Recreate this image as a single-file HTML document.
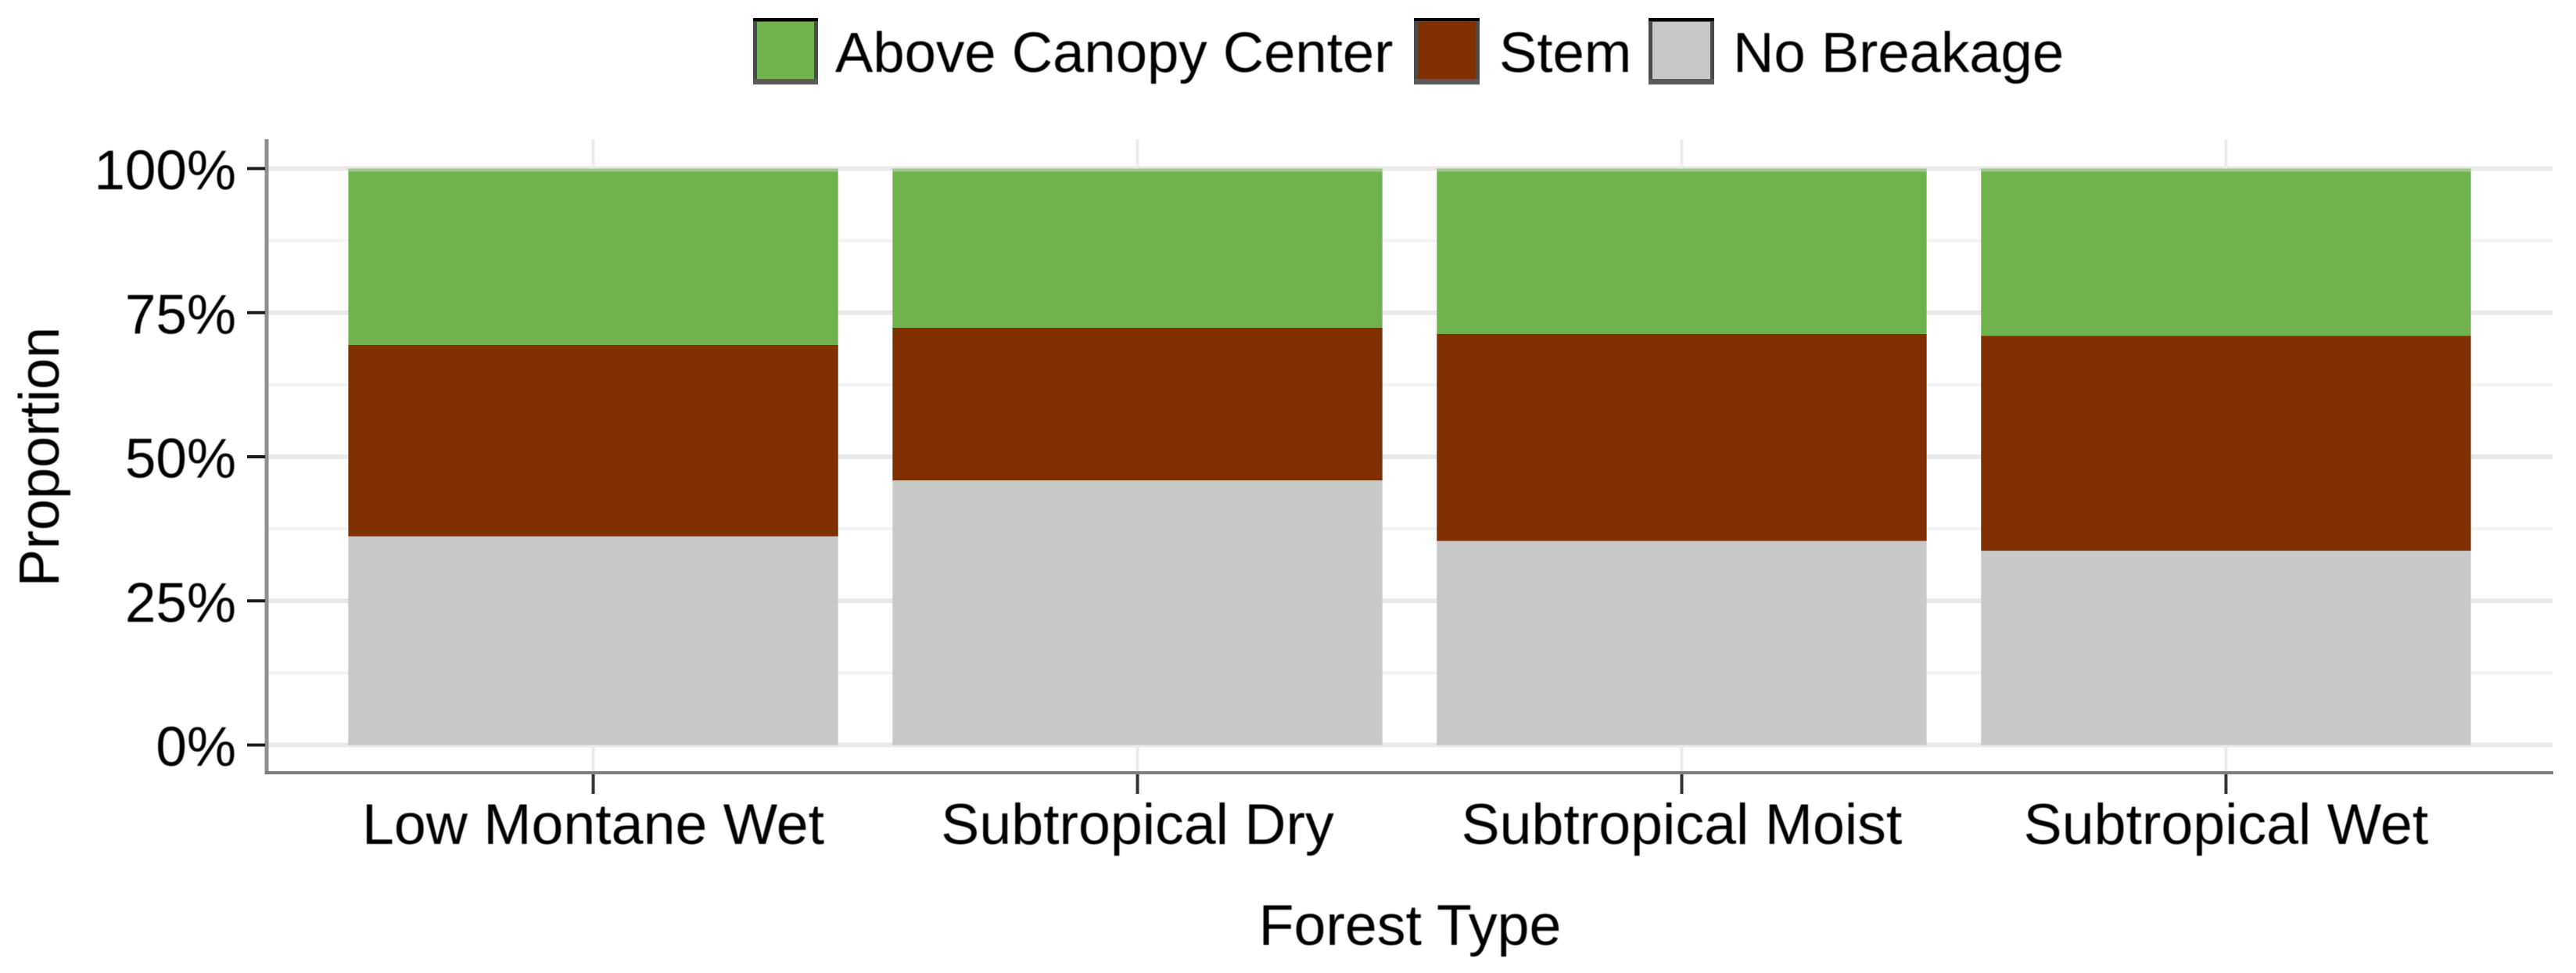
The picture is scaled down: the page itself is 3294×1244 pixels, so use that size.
<!DOCTYPE html>
<html lang="en">
<head>
<meta charset="utf-8">
<title>Breakage proportion by forest type</title>
<style>
  html, body { margin: 0; padding: 0; background: #fff; }
  body { width: 3294px; height: 1244px; overflow: hidden; }
  svg { display: block; }
  text { font-family: "Liberation Sans", Arial, sans-serif; font-size: 72px; fill: #000; filter: blur(0.6px); }
  .x-label { font-size: 73.5px; }
  .y-label { font-size: 71px; }
  .legend-label { font-size: 72.5px; }
</style>
</head>
<body>
<svg id="chart" xmlns="http://www.w3.org/2000/svg" width="3294" height="1244" viewBox="0 0 3294 1244">
  <rect x="0" y="0" width="3294" height="1244" fill="#ffffff"/>
  <g id="grid"></g>
  <g id="bars"></g>
  <g id="axes"></g>
  <text class="x-label" x="1803" y="1208" text-anchor="middle">Forest Type</text>
  <text transform="translate(75 584) rotate(-90)" text-anchor="middle">Proportion</text>
  <g id="legend"></g>
</svg>
<script>
const categories = ["Low Montane Wet", "Subtropical Dry", "Subtropical Moist", "Subtropical Wet"];
const seriesNames = ["No Breakage", "Stem", "Above Canopy Center"];
const noBreakage = [36.2, 45.9, 35.4, 33.7];
const stem = [33.2, 26.5, 35.9, 37.3];
const aboveCanopyCenter = [30.6, 27.6, 28.7, 29.0];
const yTickValues = [0, 25, 50, 75, 100];
const yTickLabels = ["0%", "25%", "50%", "75%", "100%"];
const yMinorValues = [12.5, 37.5, 62.5, 87.5];
const legendLabels = ["Above Canopy Center", "Stem", "No Breakage"];

const NS = "http://www.w3.org/2000/svg";
const panel = { left: 341, right: 3264, top: 178, bottom: 988 };
const seriesColors = { "No Breakage": "#c8c8c8", "Stem": "#7f2f00", "Above Canopy Center": "#6fb24e" };
const seriesValues = { "No Breakage": noBreakage, "Stem": stem, "Above Canopy Center": aboveCanopyCenter };

function yScale(v) { return 952.5 - (v / 100) * 737; }
function xScale(i) {
  const step = (panel.right - panel.left) / (categories.length + 0.2);
  return panel.left + step * (i + 0.6);
}
function bandWidth() {
  return 0.9 * (panel.right - panel.left) / (categories.length + 0.2);
}
function make(tag, attrs, parent) {
  const el = document.createElementNS(NS, tag);
  for (const k in attrs) el.setAttribute(k, attrs[k]);
  parent.appendChild(el);
  return el;
}
function slug(s) { return s.toLowerCase().replace(/[^a-z0-9]+/g, "-"); }

const gridG = document.getElementById("grid");
const barsG = document.getElementById("bars");
const axesG = document.getElementById("axes");
const legendG = document.getElementById("legend");

yMinorValues.forEach(function (v) {
  const el = make("line", { x1: panel.left, x2: panel.right, y1: yScale(v), y2: yScale(v), stroke: "#f3f3f3", "stroke-width": 4 }, gridG);
  
  
});
yTickValues.forEach(function (v) {
  const el = make("line", { x1: panel.left, x2: panel.right, y1: yScale(v), y2: yScale(v), stroke: "#e9e9e9", "stroke-width": 6 }, gridG);
  
  
});
categories.forEach(function (c, i) {
  const el = make("line", { x1: xScale(i), x2: xScale(i), y1: panel.top, y2: panel.bottom, stroke: "#ececec", "stroke-width": 4 }, gridG);
  
  
});

categories.forEach(function (c, i) {
  let cumulative = 0;
  seriesNames.forEach(function (name) {
    const v = seriesValues[name][i];
    const yTop = yScale(cumulative + v);
    const yBottom = yScale(cumulative);
    const el = make("rect", {
      x: xScale(i) - bandWidth() / 2,
      y: yTop,
      width: bandWidth(),
      height: yBottom - yTop,
      fill: seriesColors[name]
    }, barsG);
    
    
    cumulative += v;
  });
  const sheen = make("rect", {
    x: xScale(i) - bandWidth() / 2,
    y: yScale(100),
    width: bandWidth(),
    height: 4,
    fill: "#ffffff",
    "fill-opacity": 0.32
  }, barsG);
  
  
});

const yAxis = make("line", { x1: panel.left, x2: panel.left, y1: panel.top, y2: panel.bottom + 2, stroke: "#8f8f8f", "stroke-width": 5 }, axesG);


const xAxis = make("line", { x1: panel.left - 2, x2: panel.right + 1, y1: panel.bottom, y2: panel.bottom, stroke: "#7d7d7d", "stroke-width": 4 }, axesG);



yTickValues.forEach(function (v, i) {
  const t = make("line", { x1: 316, x2: panel.left - 2, y1: yScale(v), y2: yScale(v), stroke: "#1c1c1c", "stroke-width": 4 }, axesG);
  
  
  const lab = make("text", { x: 302, y: yScale(v) + 26.5, "text-anchor": "end", "class": "y-label" }, axesG);
  lab.textContent = yTickLabels[i];
  
  
});
categories.forEach(function (c, i) {
  const t = make("line", { x1: xScale(i), x2: xScale(i), y1: panel.bottom + 2, y2: 1015, stroke: "#333333", "stroke-width": 4 }, axesG);
  
  
  const lab = make("text", { x: xScale(i), y: 1079, "text-anchor": "middle", "class": "x-label" }, axesG);
  lab.textContent = c;
  
  
});

const legendSwatchLeft = [963, 1808, 2108];
const legendSwatchRight = [1046, 1892, 2192];
const legendTextLeft = [1068, 1917, 2216];
legendLabels.forEach(function (name, i) {
  const group = make("g", {}, legendG);
  
  
  const swatch = make("rect", {
    x: legendSwatchLeft[i] + 2.5, y: 25.5,
    width: legendSwatchRight[i] - legendSwatchLeft[i] - 5, height: 80,
    fill: seriesColors[name], stroke: "#4a4a4a", "stroke-width": 5
  }, group);
  
  
  const topEdge = make("rect", {
    x: legendSwatchLeft[i], y: 23,
    width: legendSwatchRight[i] - legendSwatchLeft[i], height: 4,
    fill: "#000000"
  }, group);
  
  
  const bottomEdge = make("rect", {
    x: legendSwatchLeft[i], y: 101,
    width: legendSwatchRight[i] - legendSwatchLeft[i], height: 7,
    fill: "#5a5a5a"
  }, group);
  
  
  const label = make("text", { x: legendTextLeft[i], y: 92, "class": "legend-label" }, group);
  label.textContent = name;
  
  
});
</script>
</body>
</html>
